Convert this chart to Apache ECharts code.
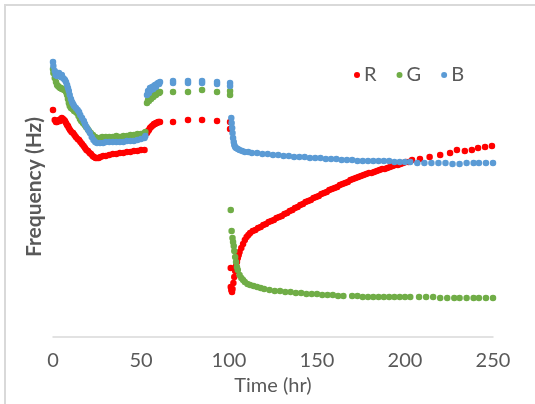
<!DOCTYPE html>
<html>
<head>
<meta charset="utf-8">
<script src="https://cdn.jsdelivr.net/npm/echarts@6/dist/echarts.min.js"></script>
<style>html,body{margin:0;padding:0;background:#fff}#c{width:535px;height:404px}</style>
</head>
<body>
<div id="c"></div>
<script>
// Series names
const seriesNames = ['R', 'G', 'B'];
// x-axis tick values
const xTicks = [0, 50, 100, 150, 200, 250];

// [time (hr), frequency (arbitrary units)]
const redData = [
[0,227],[1,217],[1.7,215],[2.3,215],[3,216],[3.4,217],[4,216],[4.5,218],[5,219],[5.7,218],[6.3,217],[6.8,216],[7.4,214],[8,212],[8.5,211],[9,209],[9.7,207],[10.5,205],[11.4,204],[12.2,202],[13,200],[14,198],[14.8,197],[15.6,195],[16.5,193],[17.4,191],[18.2,189],[19,187],[19.9,186],[20.8,184],[21.6,183],[22.5,181],[23.3,180],[24.2,179],[25,179],[26,179],[27,180],[28.5,181],[30,181],[32,182],[34,183],[36,183],[38,184],[40,184],[42,185],[44,185],[46,186],[48,186],[50,187],[52,187],
[53.4,204],[54,206],[54.5,207],[55.1,209],[55.7,210],[56.3,211],[57,212],[57.4,213],[58,213],[58.5,214],[59.1,214],[59.7,215],[60.3,215],[60.8,215],[68.2,215],[76.7,217],[84.7,217],[93.2,216],[100.6,215],[100.6,208],
[101,69],[101,50],[101.3,47],[101.7,45],[102,48],[102.5,54],[103,60],[103.5,66],[104,71],[104.5,75],[105,79],[105.5,82],[106,85],[107,89],[108,93],[109,97],[110,100],[111,102],[112,104],[113.5,106],[115,107],[116.5,109],[118,110],[119.5,112],[121,113],[122.5,115],[124,116],[125.5,117],[127,119],[128.5,120],[130,121],[131.5,123],[133,124],[134.5,126],[136,127],[137.5,129],[139,130],[140.5,132],[142,133],[143.5,135],[145,136],[146.5,137],[148,139],[149.5,140],[151,141],[152.5,143],[154,144],[155.5,145],[157,147],[158.5,148],[160,149],[161.5,150],[163,152],[164.5,153],[166,154],[167.5,155],[169,157],[170.5,158],[172,159],[173.5,160],[175,161],[176.5,162],[178,163],[179.5,164],[181,164],[182.5,165],[184,166],[185.5,167],[187,168],[188.5,168],[190,169],[191.5,170],[193,171],[194.5,172],[196,172],[197.5,173],[199,174],[200.5,175],[202,175],
[204,177],[208.5,178],[214,180],[220,182],[225.6,184],[229.5,187],[234,186],[238,187],[241.5,189],[245.5,190],[249.4,191]
];

const greenData = [
[0,268],[0.2,264],[1,259],[1.7,255],[2.3,252],[2.8,251],[3.4,250],[4,249],[4.5,249],[5,248],[5.7,248],[6.3,247],[6.8,247],[7.4,245],[8,242],[8.5,238],[9,234],[9.5,231],[10.2,229],[11,228],[12,226],[13,225],[13.6,224],[14.5,221],[15.3,218],[16,216],[17,214],[18,212],[18.8,210],[19.7,208],[20.5,206],[21.5,204],[22.7,202],[24,200],[25,199],[26.5,199],[28,200],[30,200],[32,200],[34,200],[36,201],[38,200],[40,201],[42,201],[44,202],[46,202],[48,203],[50,203],[52,204],[52.5,205],
[53.4,234],[54,237],[54.5,236],[55.1,239],[55.7,238],[56.3,241],[57,240],[57.4,242],[58,243],[58.5,242],[59.1,244],[59.7,245],[60.3,244],[60.8,245],[68.2,245],[76.7,245],[84.7,247],[93.2,245],[100.6,246],[100.6,242],
[101,127],[101.5,106],[102,99],[102.3,95],[102.7,91],[103,86],[103.5,80],[104,75],[104.5,70],[105,67],[106,62],[107,59],[108,57],[109,55],[110.5,53],[112,52],[114,51],[116,50],[118,49],[120,48],[123,47],[126,46],[129,46],[132,45],[135,45],[138,44],[141,44],[144,43],[147,43],[150,43],[153,42],[156,42],[159,42],[162,41],[165,41],[170,41],[173,41],[176,40],[179,40],[182,40],[185,40],[188,40],[191,40],[194,40],[197,40],[200,40],[203,40],
[208,40],[212,40],[216,40],[220,39],[224,39],[228,39],[231,39],[235,39],[239,39],[242,39],[246,39],[250,39]
];

const blueData = [
[0,275],[0.2,271],[1,266],[1.5,262],[2.3,261],[3,263],[3.4,264],[4,261],[4.5,260],[5,262],[5.7,259],[6.3,258],[6.8,257],[7.4,255],[8,252],[8.5,249],[9,246],[9.5,242],[10.2,238],[10.8,235],[11.4,233],[12,231],[13,229],[14,227],[14.8,225],[15.5,222],[16.5,219],[17.5,216],[18.2,213],[19,210],[20,207],[21,204],[22,200],[23,197],[24,195],[25,194],[26.7,194],[28.5,194],[30,195],[32,195],[34,195],[36,195],[38,195],[40,195],[42,196],[44,196],[46,196],[48,197],[50,198],[52,199],[52.5,201],
[53.4,242],[54,246],[54.5,244],[55.1,249],[55.7,247],[56.3,250],[57,248],[57.4,251],[58,252],[58.5,250],[59.1,253],[59.7,254],[60.3,253],[60.8,255],[68.2,254],[68.2,256],[76.7,254],[76.7,256],[84.7,254],[84.7,256],[93.2,253],[93.2,255],[100.6,254],[100.6,251],
[101.3,219],[101.5,214],[101.8,209],[102,204],[102.3,199],[102.7,195],[103,192],[103.5,190],[104,189],[105,188],[106,187],[107.5,186],[109,185],[111,185],[113,184],[116,184],[119,183],[122,183],[125,182],[128,182],[131,181],[134,181],[137,180],[140,180],[143,180],[146,179],[149,179],[152,179],[155,178],[158,178],[161,178],[164,177],[167,177],[170,177],[173,176],[176,176],[179,176],[182,176],[185,176],[188,176],[191,176],[194,175],[197,175],[200,175],[203,175],
[207,174],[211,174],[215,174],[219,174],[223,174],[227,173],[231,173],[235,174],[239,174],[242,174],[246,174],[250,174]
];

const colors = ['#ff0000', '#70ad47', '#5b9bd5'];
const FONT = 'Lato';

const chart = echarts.init(document.getElementById('c'), null, {renderer: 'canvas'});
chart.setOption({
  animation: false,
  backgroundColor: '#ffffff',
  textStyle: {fontFamily: FONT},
  graphic: [{
    type: 'rect', z: -1, silent: true,
    shape: {x: 5, y: 5, width: 800, height: 800},
    style: {fill: 'none', stroke: '#d9d9d9', lineWidth: 2}
  }],
  grid: {left: 53, right: 42, top: 37, bottom: 67},
  legend: {
    data: seriesNames,
    left: 354, top: 65,
    icon: 'circle', itemWidth: 6, itemHeight: 6, itemGap: 20,
    padding: 0,
    textStyle: {fontSize: 20, color: '#595959', fontFamily: FONT, padding: [0,0,0,-1]}
  },
  xAxis: {
    type: 'value', min: 0, max: 250, interval: 50,
    axisLine: {lineStyle: {color: '#d9d9d9', width: 1.5}},
    axisTick: {show: false},
    splitLine: {show: false},
    axisLabel: {fontSize: 20, color: '#595959', margin: 14, fontFamily: FONT,
      formatter: v => xTicks.indexOf(v) >= 0 ? String(v) : ''},
    name: 'Time (hr)', nameLocation: 'middle', nameGap: 38,
    nameTextStyle: {fontSize: 20, color: '#595959', fontFamily: FONT}
  },
  yAxis: {
    type: 'value', min: 0, max: 300,
    axisLine: {show: false}, axisTick: {show: false},
    axisLabel: {show: false}, splitLine: {show: false},
    name: 'Frequency (Hz)', nameLocation: 'middle', nameGap: 8,
    nameTextStyle: {fontSize: 21, fontWeight: 'bold', color: '#595959', fontFamily: FONT}
  },
  series: [
    {name: 'R', type: 'scatter', data: redData, symbolSize: 6.5, itemStyle: {color: colors[0], opacity: 1}},
    {name: 'G', type: 'scatter', data: greenData, symbolSize: 6.5, itemStyle: {color: colors[1], opacity: 1}},
    {name: 'B', type: 'scatter', data: blueData, symbolSize: 6.5, itemStyle: {color: colors[2], opacity: 1}}
  ]
});
</script>
</body>
</html>
